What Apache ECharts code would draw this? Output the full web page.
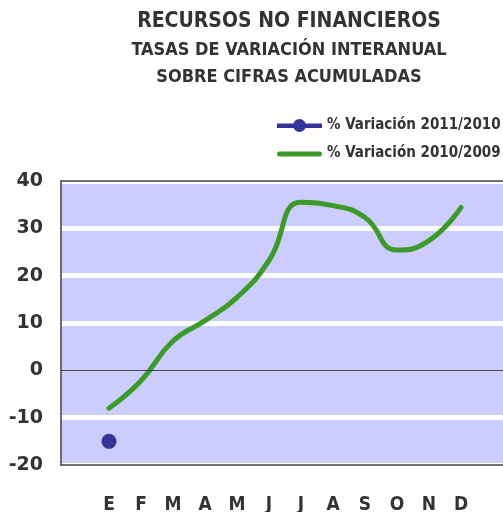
<!DOCTYPE html>
<html>
<head>
<meta charset="utf-8">
<script src="https://cdn.jsdelivr.net/npm/echarts@6/dist/echarts.min.js"></script>
<style>html,body{margin:0;padding:0;background:#fff;}#c{width:503px;height:512px;}</style>
</head>
<body>
<div id="c"></div>
<script>
const months = ['E','F','M','A','M','J','J','A','S','O','N','D'];
const yTicks = [-20, -10, 0, 10, 20, 30, 40];
const variacion2011 = [-15, null, null, null, null, null, null, null, null, null, null, null];
const variacion2010 = [-8, -2.2, 6.2, 10.5, 15.4, 23.2, 35.5, 34.8, 32.3, 25.4, 27.4, 34.4];
const name2011 = '% Variación 2011/2010';
const name2010 = '% Variación 2010/2009';

const cats = [''].concat(months, ['']);
const pad = a => [null].concat(a, [null]);
const splitColors = yTicks.map(v => v === 0 ? '#ccccff' : '#ffffff');

const chart = echarts.init(document.getElementById('c'), null, {renderer: 'canvas'});
chart.setOption({
  animation: false,
  backgroundColor: '#ffffff',
  title: [
    {text: 'RECURSOS NO FINANCIEROS', left: 284, top: 6, textAlign: 'center',
     textStyle: {fontFamily: 'DejaVu Sans Condensed', fontWeight: 'bold', fontSize: 21, color: '#333333'}},
    {text: 'TASAS DE VARIACIÓN INTERANUAL', left: 284, top: 36, textAlign: 'center',
     textStyle: {fontFamily: 'DejaVu Sans Condensed', fontWeight: 'bold', fontSize: 18, color: '#333333'}},
    {text: 'SOBRE CIFRAS ACUMULADAS', left: 284, top: 63, textAlign: 'center',
     textStyle: {fontFamily: 'DejaVu Sans Condensed', fontWeight: 'bold', fontSize: 18, color: '#333333'}}
  ],
  legend: {
    orient: 'vertical', left: 272, top: 113, itemWidth: 45, itemHeight: 15, itemGap: 13,
    textStyle: {fontFamily: 'DejaVu Sans Condensed', fontWeight: 'bold', fontSize: 15, color: '#333333'},
    data: [
      {name: name2011, icon: 'path://M0,5.5 L45,5.5 L45,10 L0,10 Z M16,7.5 A6.5,6.5 0 1 1 29,7.5 A6.5,6.5 0 1 1 16,7.5 Z M0,1 L0.01,1 L0.01,1.01 Z M0,14 L0.01,14 L0.01,14.01 Z'},
      {name: name2010, icon: 'path://M2.5,5.5 L42.5,5.5 A2.5,2.5 0 0 1 42.5,10.5 L2.5,10.5 A2.5,2.5 0 0 1 2.5,5.5 Z M0,1 L0.01,1 L0.01,1.01 Z M0,14 L0.01,14 L0.01,14.01 Z'}
    ]
  },
  grid: {left: 61, right: -6, top: 181, bottom: 47, backgroundColor: '#ccccff', show: true, borderWidth: 0,
         outerBoundsMode: 'none', containLabel: false},
  xAxis: [
    {type: 'category', data: cats, boundaryGap: true, position: 'bottom', z: 5,
     axisLine: {onZero: false, lineStyle: {color: '#444444', width: 1.5}},
     axisTick: {show: false},
     axisLabel: {margin: 31, interval: 0, fontFamily: 'DejaVu Sans Condensed', fontWeight: 'bold', fontSize: 19, color: '#333333'},
     splitLine: {show: false}},
    {type: 'category', data: cats, boundaryGap: true, position: 'top', z: 5,
     axisLine: {onZero: false, lineStyle: {color: '#444444', width: 1.5}},
     axisTick: {show: false}, axisLabel: {show: false}, splitLine: {show: false}}
  ],
  yAxis: {
    type: 'value', min: yTicks[0], max: yTicks[yTicks.length - 1], interval: 10,
    axisLine: {show: true, lineStyle: {color: '#444444', width: 1.5}},
    axisTick: {show: false},
    axisLabel: {margin: 18, fontFamily: 'DejaVu Sans', fontWeight: 'bold', fontSize: 19, color: '#333333'},
    splitLine: {show: true, lineStyle: {color: splitColors, width: 5}}
  },
  series: [
    {name: name2011, type: 'line', data: pad(variacion2011), symbol: 'circle', symbolSize: 15,
     showAllSymbol: true, connectNulls: false,
     itemStyle: {color: '#333399'}, lineStyle: {color: '#333399', width: 5}, z: 4},
    {name: name2010, type: 'line', data: pad(variacion2010), symbol: 'none', smooth: 0.5,
     itemStyle: {color: '#3a9b26'}, lineStyle: {color: '#3a9b26', width: 5, cap: 'round'}, z: 3,
     markLine: {silent: true, symbol: 'none', label: {show: false},
       lineStyle: {color: '#444444', width: 1.2, type: 'solid'}, data: [{yAxis: 0}]}}
  ]
});
</script>
</body>
</html>
